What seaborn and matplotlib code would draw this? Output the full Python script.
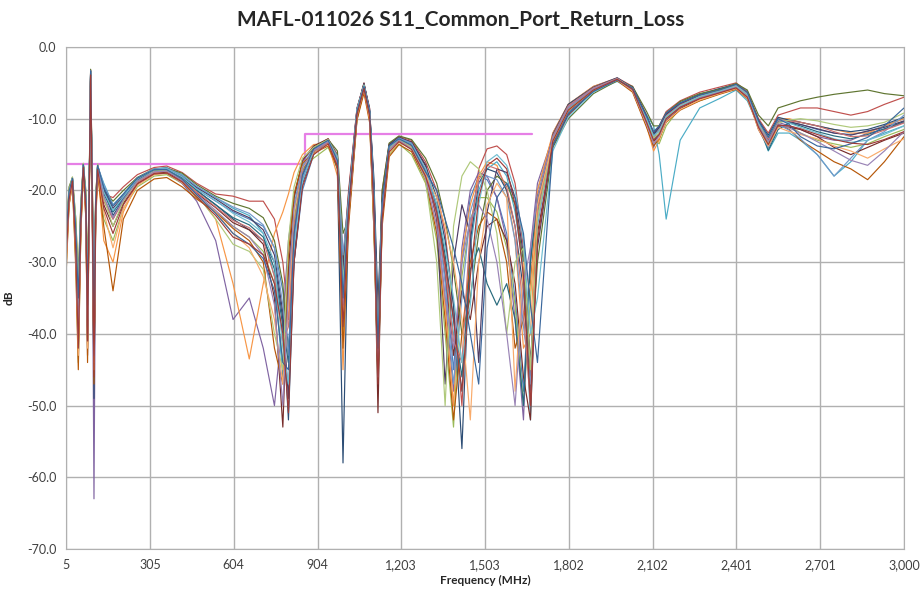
import pandas as pd
import numpy as np
import matplotlib
matplotlib.use("Agg")
import matplotlib.pyplot as plt
import seaborn as sns

sns.set_style("white")
plt.rcParams["font.family"] = ["Lato", "DejaVu Sans"]

# frequency grid (MHz) shared by every measured unit
FREQ = [5, 16, 28, 40, 49, 58, 67, 76, 82, 88, 93, 99, 105, 111, 118,
        140, 173, 210, 260, 320, 365, 420, 472, 540, 602, 660, 710, 750, 780, 800, 820, 850, 890,
        942, 975, 995, 1015, 1045, 1070, 1090, 1105, 1120, 1135, 1160, 1195, 1240, 1290,
        1330, 1360, 1390, 1420, 1450, 1480, 1510, 1545, 1580, 1610, 1640, 1665, 1690,
        1745, 1800, 1890, 1975, 2030, 2080, 2105, 2125, 2150, 2200, 2270, 2340,
        2400, 2440, 2480, 2515, 2550, 2590, 2630, 2690, 2750, 2810, 2870, 2930, 3000]

# S11 traces (dB), one list per unit
unit_01 = [-29, -21, -18.5, -27, -38, -24, -16.5, -22, -38, -20, -3.5, -20, -40, -22, -16.8,
           -19.5, -23, -21, -18.5, -17.2, -17, -18, -19.8, -21.5, -23, -24, -25, -28, -34, -42, -30, -20, -15,
           -13.2, -16, -35, -22, -9, -5.5, -9, -20, -42, -22, -14, -12.8, -13.5, -17,
           -23, -32, -45, -30, -21, -18, -18.5, -21, -26, -35, -48, -30, -20,
           -12.5, -8.3, -5.7, -4.4, -5.8, -10, -12.5, -11.5, -9.5, -8, -6.8, -6,
           -5.3, -6.5, -10.5, -12.5, -10, -10.5, -10.8, -11.5, -12, -12.2, -11.8, -11, -10]
unit_02 = [-27, -20, -18.2, -25, -34, -22, -16.3, -21, -35, -19, -3.2, -19, -37, -21, -16.5,
           -20.5, -21, -19.5, -17.8, -16.8, -16.6, -17.5, -19, -20.5, -20.8, -21.5, -21.5, -24, -30, -38, -27, -18.5, -14,
           -12.8, -15, -30, -20, -8.5, -5.2, -8.5, -19, -38, -20, -13.5, -12.5, -13, -16,
           -20, -26, -36, -50, -26, -17, -14.2, -13.8, -15, -19, -28, -46, -22,
           -12, -8, -5.5, -4.3, -5.5, -9.5, -12, -11, -9, -7.5, -6.3, -5.6,
           -5, -6.2, -10, -12, -9.5, -9, -8.5, -8.5, -9, -9.5, -9, -8, -7]
unit_03 = [-31, -22, -19, -30, -44, -26, -17, -24, -42, -22, -4.5, -23, -46, -24, -17.5,
           -24, -27, -22.5, -19.5, -18, -17.8, -19, -21, -23, -25, -26.5, -28.5, -33, -44, -35, -24, -17, -15.5,
           -14, -17, -40, -24, -10, -6, -10, -24, -48, -24, -15, -13.5, -15, -19,
           -27, -40, -53, -32, -24, -21, -21, -23, -28, -36, -50, -35, -22,
           -13.5, -9, -6, -4.6, -6, -10.5, -13, -13.5, -11, -8.5, -7.5, -6.5,
           -5.8, -7, -11, -13.5, -11, -11, -12, -13, -13.5, -14, -13.5, -12.5, -11.5]
unit_04 = [-28, -20.5, -18.4, -26, -36, -23, -16.4, -22, -40, -20, -3.3, -24, -63, -23, -16.6,
           -21, -24, -21, -18.8, -17.5, -17.5, -19, -21.5, -27, -38, -35, -42, -50, -38, -27, -21, -16, -14,
           -13, -16, -36, -21, -8.8, -5.3, -9, -21, -44, -22, -14, -12.8, -13.5, -17.5,
           -24, -35, -48, -28, -20, -17.5, -18, -21, -27, -38, -52, -28, -19,
           -12.5, -8.5, -5.8, -4.5, -6, -10.5, -14, -12, -10, -8.3, -7, -6.2,
           -5.5, -7, -11, -13, -10.5, -11, -11.5, -12.5, -13, -13, -12, -11.5, -10.5]
unit_05 = [-30, -21.5, -18.6, -28, -41, -25, -16.7, -23, -39, -21, -4, -21, -44, -24, -17,
           -27, -30, -23, -19, -17.6, -17.4, -18.8, -20.5, -24, -33, -43.5, -33, -26, -23, -20.5, -17.5, -15, -13.6,
           -13.4, -18, -45, -23, -9.5, -5.8, -9.5, -23, -38, -21, -13.8, -13, -14, -18.5,
           -25, -36, -50, -29, -22, -18, -16, -16.5, -20, -27, -42, -40, -20,
           -12, -8, -5.5, -4.4, -6.2, -11, -14.5, -13, -10, -8.3, -6.7, -6,
           -5.4, -6.6, -10.5, -12.5, -10, -10, -10.5, -11, -11.5, -12, -12, -11, -10]
unit_06 = [-27, -20, -18.3, -26, -37, -23, -16.5, -21, -36, -19.5, -3.6, -21, -42, -22, -16.7,
           -19, -22, -20.5, -18.2, -17, -16.8, -17.8, -19.5, -21, -22.5, -23.5, -26, -32, -46, -33, -22, -16.5, -14.2,
           -13.1, -15.5, -32, -24, -9.2, -5.6, -8.8, -19, -40, -23, -14.3, -13, -13.8, -17.8,
           -22, -30, -40, -48, -28, -20, -17, -16, -18, -23, -31, -52, -24,
           -13, -9.2, -6.2, -4.8, -6, -9.5, -11, -15, -24, -13, -8.5, -7.2,
           -6, -7.5, -11, -14.5, -12, -12, -13, -15, -18, -16, -13, -12, -11]
unit_07 = [-28, -20.8, -18.5, -27, -39, -24, -16.6, -22, -37, -20, -3.4, -22, -49, -23, -16.9,
           -20, -23.5, -21.2, -18.6, -17.2, -17.1, -18.2, -20, -22, -24, -25.5, -27, -30, -38, -52, -30, -19, -14.5,
           -13, -17, -58, -22, -8.8, -5.2, -8.8, -18, -36, -21, -13.6, -12.6, -13.4, -16.5,
           -21, -27, -36, -56, -27, -19, -17, -17.5, -20, -25, -34, -48, -23,
           -12.2, -8, -5.6, -4.3, -5.7, -9.8, -12.3, -11.2, -9.3, -7.8, -6.6, -5.8,
           -5.2, -6.4, -10.2, -12.3, -9.8, -10.2, -10.5, -11, -11.5, -11.8, -11.5, -10.8, -9.8]
unit_08 = [-30, -21.2, -18.7, -28, -42, -25, -16.8, -23, -43, -21, -3.8, -22, -45, -23, -17.2,
           -22, -25, -21.8, -19, -17.6, -17.5, -18.6, -20.4, -22.4, -24.5, -25.5, -27.5, -35, -53, -31, -21, -15.8, -13.8,
           -12.8, -15.5, -30, -20.5, -8.6, -5, -9.2, -22, -51, -23, -14.2, -12.7, -13.2, -16.6,
           -22.5, -31, -43, -34, -38, -30, -25, -24, -27, -33, -46, -52, -26,
           -13.8, -9.5, -6.1, -4.6, -5.8, -10.2, -13.2, -12.3, -10.2, -8.6, -7.2, -6.4,
           -5.6, -6.8, -11.5, -14, -11, -11.2, -11.5, -12.5, -14, -15, -14, -13, -12]
unit_09 = [-26, -19.5, -18.2, -24, -32, -22, -16.3, -20, -33, -18.5, -3.1, -18.5, -35, -21, -16.4,
           -20, -21.5, -20, -18.2, -17, -16.9, -17.6, -19.2, -20.8, -21.8, -22.5, -23.8, -27, -33, -44, -25, -17.5, -14,
           -12.9, -14.5, -26, -24, -10, -6, -9.8, -25, -40, -20, -13.4, -12.4, -12.9, -15.5,
           -19, -24, -31, -40, -35, -26, -20, -18, -19, -22, -30, -45, -30,
           -14, -10, -6.5, -4.7, -5.5, -9, -11, -11, -9.2, -7.6, -6.5, -5.9,
           -5.1, -6, -9.5, -11, -8.5, -8, -7.5, -7, -6.6, -6.3, -6, -6.5, -6.8]
unit_10 = [-32, -22, -19.2, -31, -45, -26, -17.1, -24, -44, -22, -4.2, -24, -47, -25, -17.6,
           -25, -34, -24, -20, -18.4, -18.2, -19.5, -21.2, -23, -25.3, -27, -30, -42, -47, -29, -20.5, -16.2, -14.8,
           -13.8, -16.8, -42, -25, -10.2, -6.4, -10.5, -25, -46, -25, -15.3, -13.6, -14.6, -18.6,
           -26, -38, -52, -40, -30, -25, -23, -24, -30, -42, -38, -33, -21,
           -13, -8.8, -6, -4.7, -6.3, -11.2, -13.8, -12.8, -10.5, -8.8, -7.5, -6.6,
           -5.9, -7.2, -11.2, -13.2, -10.8, -11.5, -13, -14.5, -16, -17, -18.5, -16, -12.5]
unit_11 = [-29, -20.7, -18.4, -27, -39, -24, -16.5, -22, -39, -20.2, -3.6, -21, -42, -22.5, -16.8,
           -20.5, -23, -21, -18.6, -17.3, -17.2, -18.3, -20, -22, -23.8, -24.8, -26.5, -31, -39, -44, -26, -18, -14.6,
           -13.2, -15.8, -33, -23, -9, -5.4, -9, -20.5, -43, -22.5, -14, -12.9, -13.6, -17.2,
           -22, -29, -38, -46, -31, -28, -33, -36, -33, -38, -50, -30, -21,
           -12.8, -8.6, -5.9, -4.5, -5.9, -10.3, -13, -12, -9.8, -8.2, -7, -6.2,
           -5.4, -6.6, -10.8, -14.4, -11.5, -10.6, -11, -11.8, -12.4, -12.8, -12.2, -11.4, -10.4]
unit_12 = [-28, -20.3, -18.3, -26, -37, -23, -16.4, -21.5, -41, -19.8, -3.3, -20.5, -43, -22, -16.6,
           -19.8, -22.5, -20.8, -18.4, -17.1, -17, -18, -19.6, -21.2, -22.8, -23.8, -25.5, -29, -37, -49, -29, -19, -14.3,
           -12.9, -15.2, -31, -21.5, -8.7, -5.1, -8.6, -19.5, -41, -21.5, -13.7, -12.6, -13.3, -16.4,
           -24, -47, -30, -22, -26, -44, -23, -17, -17.5, -21, -29, -44, -28,
           -13.4, -9, -6, -4.5, -5.6, -9.6, -12, -11.2, -9.4, -7.9, -6.8, -6.1,
           -5.3, -6.4, -10.4, -12.8, -10.3, -10.4, -10.8, -11.4, -12, -12.3, -11.7, -11.2, -10.3]
unit_13 = [-27, -20.2, -18.4, -25, -35, -22.5, -16.4, -21, -37, -19.5, -3.4, -20, -39, -21.5, -16.5,
           -19.2, -22, -20.6, -18.3, -17, -16.9, -17.9, -19.4, -21, -22.3, -23.2, -24.8, -28, -36, -43, -27, -18.3, -14.4,
           -13, -15.2, -29, -21, -8.6, -5.3, -9.1, -20.5, -45, -22, -13.9, -12.7, -13.4, -17,
           -23, -33, -47, -35, -23, -19, -18, -18.5, -21, -27, -39, -47, -25,
           -12.7, -8.5, -5.8, -4.4, -5.8, -10.1, -12.8, -12, -10, -8.4, -7.1, -6.3,
           -5.5, -6.9, -11.3, -14, -10.8, -11.6, -12.8, -15, -18, -15.5, -13, -11.8, -9.5]
unit_14 = [-30, -21, -18.6, -28, -40, -24.5, -16.7, -22.5, -38, -20.5, -3.7, -21.5, -44, -23, -17,
           -21.5, -24, -21.5, -18.9, -17.5, -17.3, -18.5, -20.2, -22.3, -24.2, -25.2, -27, -32, -41, -39, -25, -17.5, -14.6,
           -13.3, -16.5, -37, -22.5, -9.1, -5.6, -9.3, -21.5, -40, -22, -14.1, -13, -13.8, -17.3,
           -23.5, -31, -41, -44, -25, -18.5, -16.5, -17, -19.5, -25, -37, -50, -23,
           -12.4, -8.2, -5.7, -4.4, -5.9, -10.4, -12.6, -11.6, -9.6, -8.1, -6.9, -6.1,
           -5.3, -6.5, -10.6, -12.8, -10.2, -10.3, -10.5, -11, -11.8, -12.5, -12.4, -11.6, -10.6]
unit_15 = [-26, -19.8, -18.1, -24, -33, -21.5, -16.2, -20.5, -34, -19, -3.3, -19.5, -38, -21, -16.3,
           -21, -25, -21.5, -18.7, -17.3, -17.2, -18.4, -20.6, -24, -27.5, -28.5, -31, -40, -45, -27, -19.5, -15.5, -14,
           -12.9, -15.5, -33, -22, -8.9, -5.3, -9.2, -21, -43, -22.5, -14.2, -12.9, -14, -18.5,
           -30, -50, -25, -18, -16, -17, -20, -26, -40, -30, -28, -45, -24,
           -12.9, -8.7, -6, -4.5, -5.7, -10, -12.7, -12, -9.9, -8.2, -6.9, -6.1,
           -5.5, -6.8, -10.7, -13.3, -10.6, -10.2, -10, -10.3, -10.8, -11.2, -11, -10.5, -9.2]
unit_16 = [-31, -21.8, -18.9, -29, -43, -25.5, -16.9, -23.5, -42, -21.5, -4.1, -22.5, -45, -24, -17.3,
           -23, -28, -22.5, -19.3, -17.8, -17.6, -18.9, -20.8, -23, -26, -28, -32, -38, -47, -36, -23, -16.8, -14.9,
           -13.6, -16.2, -38, -23.5, -9.6, -5.9, -10, -24, -45, -23.5, -14.8, -13.3, -14.2, -17.8,
           -21, -25, -30, -38, -52, -30, -22, -19, -21, -48, -30, -34, -22,
           -13.2, -8.9, -6, -4.6, -6.1, -10.8, -13.4, -12.7, -10.4, -8.7, -7.4, -6.5,
           -5.8, -7.1, -11.5, -13.8, -11.2, -11.8, -12.2, -12.8, -13.8, -14.5, -15.5, -14.2, -12.8]
unit_17 = [-28, -20.4, -18.3, -26, -36, -23, -16.5, -21.5, -38, -19.8, -3.5, -20.5, -41, -22, -16.6,
           -20.2, -22.8, -20.9, -18.4, -17.1, -17, -18.1, -19.8, -21.4, -23.2, -24.4, -26, -30, -42, -47, -28, -18.8, -14.4,
           -13.1, -15.6, -34, -21.8, -8.8, -5.4, -8.9, -20, -42, -22, -13.9, -12.8, -13.6, -16.9,
           -22, -28, -35, -44, -36, -22, -16, -15, -16.5, -20, -27, -40, -35,
           -14.5, -9.8, -6.3, -4.6, -5.8, -10, -12.4, -11.7, -9.7, -8.2, -6.9, -6.2,
           -5.4, -6.6, -10.6, -12.6, -10.1, -10.6, -11.2, -12, -12.8, -13.3, -13, -12.2, -11]
unit_18 = [-29, -20.9, -18.6, -27.5, -40, -24.3, -16.6, -22.3, -40, -20.3, -3.5, -21.3, -43, -22.8, -16.9,
           -20.8, -23.8, -21.3, -18.7, -17.4, -17.3, -18.6, -20.5, -22.8, -25, -26.5, -29, -36, -50, -34, -22.5, -16.8, -14.4,
           -13.2, -16.2, -36, -23, -9.3, -5.7, -9.4, -22, -46, -23, -14.3, -13, -14.2, -18.2,
           -25, -35, -42, -30, -24, -22, -24, -30, -40, -50, -33, -28, -21,
           -12.6, -8.4, -5.8, -4.5, -6, -10.7, -13.5, -12.4, -10.1, -8.4, -7.1, -6.3,
           -5.6, -6.9, -11, -13.2, -10.7, -11.3, -12, -13.2, -14.5, -15.8, -16.5, -14.5, -11.8]
unit_19 = [-27, -20.1, -18.3, -25.5, -35, -22.7, -16.4, -21.3, -36, -19.6, -3.3, -20.2, -40, -21.8, -16.5,
           -19.6, -22.2, -20.5, -18.3, -17.1, -17.1, -18.4, -20.6, -23.2, -26, -27.5, -29.5, -34, -44, -45, -26, -17.8, -14.2,
           -13, -15.8, -35, -22.2, -9, -5.5, -9, -20, -42, -21.6, -13.8, -12.8, -13.7, -17.4,
           -20, -24, -28, -33, -40, -47, -28, -21, -19, -21, -26, -36, -44,
           -13.8, -9.3, -6.2, -4.6, -5.7, -9.7, -11.8, -11, -9.2, -7.8, -6.7, -6,
           -5.2, -6.3, -10.3, -12.6, -10, -10.8, -12.5, -13.8, -14.2, -13.5, -12.6, -11, -8.5]
unit_20 = [-30, -21.3, -18.7, -28.5, -42, -24.8, -16.8, -22.8, -41, -20.8, -3.9, -22, -46, -23.5, -17.1,
           -22.5, -26, -22, -19.1, -17.7, -17.6, -18.8, -20.9, -23.5, -26.5, -27.5, -29, -33, -40, -51, -30, -19.5, -15,
           -13.5, -16.6, -39, -23.2, -9.4, -5.8, -9.6, -22.5, -47, -24, -14.6, -13.2, -14.3, -18,
           -23, -30, -38, -48, -32, -21, -16.5, -15.5, -17, -22, -32, -50, -27,
           -13.1, -8.8, -6, -4.5, -5.9, -10.5, -13, -12.2, -10, -8.4, -7.2, -6.4,
           -5.7, -7, -11.2, -13.6, -10.9, -11, -11.4, -12.2, -12.9, -13.4, -13.6, -12.9, -11.8]

units = [unit_01, unit_02, unit_03, unit_04, unit_05, unit_06, unit_07, unit_08, unit_09, unit_10,
         unit_11, unit_12, unit_13, unit_14, unit_15, unit_16, unit_17, unit_18, unit_19, unit_20]

# spec limit
LIMIT_F = [5, 860, 860, 1670]
LIMIT_DB = [-16.3, -16.3, -12.2, -12.2]

XTICKS = [5, 305, 604, 904, 1203, 1503, 1802, 2102, 2401, 2701, 3000]
XLABELS = ["5", "305", "604", "904", "1,203", "1,503", "1,802", "2,102", "2,401", "2,701", "3,000"]
YTICKS = [-70, -60, -50, -40, -30, -20, -10, 0]

frames = []
for i, u in enumerate(units):
    frames.append(pd.DataFrame({"freq": FREQ, "db": u, "unit": f"u{i+1}"}))
df = pd.concat(frames, ignore_index=True)

# office-style series colours
colors = ["#4F81BD", "#C0504D", "#9BBB59", "#8064A2", "#F79646", "#4BACC6",
          "#2C4D75", "#772C2A", "#5F7530", "#B65708", "#276A7C", "#4D3B62",
          "#729ACA", "#CD7371", "#AFC97A", "#F9AB6B", "#6FBDD1", "#9983B5",
          "#3A679C", "#9E3B38"]

fig = plt.figure(figsize=(9.22, 5.96), dpi=100)
ax = fig.add_axes([66/922, 1-549/596, (904-66)/922, (549-47)/596])

ax.plot(LIMIT_F, LIMIT_DB, color="#E67FE6", lw=1.6, zorder=1)
sns.lineplot(data=df, x="freq", y="db", hue="unit", palette=colors, legend=False,
             estimator=None, sort=False, lw=0.85, ax=ax, zorder=2)

ax.set_xlim(5, 3000)
ax.set_ylim(-70, 0)
ax.set_xticks(XTICKS)
ax.set_xticklabels(XLABELS)
ax.set_yticks(YTICKS)
ax.set_yticklabels([f"{v:.1f}" for v in YTICKS])
ax.grid(True, color="#B0B0B0", lw=1)
ax.set_axisbelow(True)
for s in ax.spines.values():
    s.set_color("#B0B0B0")
ax.tick_params(length=4, width=1, color="#B0B0B0", labelsize=9, labelcolor="#404040", pad=3)

ax.set_xlabel("Frequency (MHz)", fontsize=8.5, fontweight="bold", labelpad=3)
ax.set_ylabel("dB", fontsize=8.5, fontweight="bold")
ax.yaxis.set_label_coords(-51/838, 0.5)
fig.text(0.5, 1-20/596, "MAFL-011026 S11_Common_Port_Return_Loss", ha="center", va="center",
         fontsize=15, fontweight="bold")

fig.savefig("out.png", dpi=100)
